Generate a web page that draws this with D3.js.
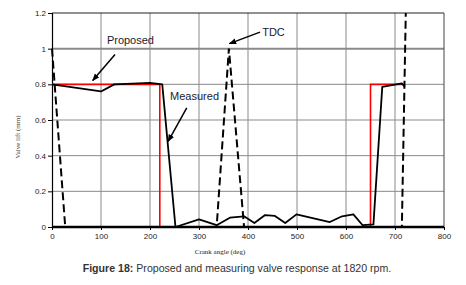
<!DOCTYPE html>
<html>
<head>
<meta charset="utf-8">
<script src="https://cdn.jsdelivr.net/npm/d3@7"></script>
<style>
  body { margin: 0; background: #fff; }
  svg { display: block; }
</style>
</head>
<body>
<div id="chart"></div>
<script>
// series (crank angle deg, valve lift mm)
const proposed = [[0, 0.8], [220, 0.8], [220, 0], [650, 0], [650, 0.8], [715, 0.8]];
const measured = [[0, 0.8], [100, 0.76], [127, 0.8], [200, 0.808], [225, 0.8], [252, 0],
  [300, 0.043], [336, 0.01], [363, 0.052], [392, 0.06], [413, 0.022], [435, 0.067],
  [455, 0.062], [476, 0.022], [499, 0.071], [567, 0.028], [592, 0.06], [615, 0.071],
  [634, 0.01], [656, 0.015], [674, 0.786], [714, 0.805], [720, 0.786]];
const tdc = [[0, 1], [27, 0], [336, 0], [361, 1], [392, 0], [714, 0], [722, 1.2]];
const xTicks = [0, 100, 200, 300, 400, 500, 600, 700, 800];
const yTicks = [0, 0.2, 0.4, 0.6, 0.8, 1, 1.2];

const W = 466, H = 285;
const M = { top: 13, right: 22, bottom: 58, left: 52 };

const svg = d3.select('#chart').append('svg')
  .attr('width', W).attr('height', H);

const x = d3.scaleLinear().domain([0, 800]).range([M.left, W - M.right]);
const y = d3.scaleLinear().domain([0, 1.2]).range([H - M.bottom, M.top]);

// grid
svg.append('g').selectAll('line.v')
  .data(xTicks.slice(1, -1)).enter().append('line')
  .attr('x1', d => x(d)).attr('x2', d => x(d))
  .attr('y1', y(0)).attr('y2', y(1.2))
  .attr('stroke', '#8a8a8a').attr('stroke-width', 1);
svg.append('g').selectAll('line.h')
  .data(yTicks.slice(1, -1)).enter().append('line')
  .attr('x1', x(0)).attr('x2', x(800))
  .attr('y1', d => y(d)).attr('y2', d => y(d))
  .attr('stroke', '#8a8a8a').attr('stroke-width', d => d === 1 ? 2 : 1);

// frame
svg.append('line').attr('x1', x(0)).attr('x2', x(800)).attr('y1', y(1.2)).attr('y2', y(1.2))
  .attr('stroke', '#222').attr('stroke-width', 1);
svg.append('line').attr('x1', x(800)).attr('x2', x(800)).attr('y1', y(0)).attr('y2', y(1.2))
  .attr('stroke', '#444').attr('stroke-width', 1);

// axes
const yAxis = svg.append('g')
  .attr('transform', `translate(${x(0)},0)`)
  .call(d3.axisLeft(y).tickValues(yTicks).tickSize(4).tickFormat(d3.format('')));
const xAxis = svg.append('g')
  .attr('transform', `translate(0,${y(0)})`)
  .call(d3.axisBottom(x).tickValues(xTicks).tickSize(3));
[yAxis, xAxis].forEach(a => {
  a.select('.domain').attr('stroke', '#000');
  a.selectAll('.tick line').attr('stroke', '#000');
  a.selectAll('text').attr('fill', '#222')
    .style('font-family', 'Liberation Sans, Arial, sans-serif').style('font-size', '8px');
});
yAxis.select('.domain').attr('stroke-width', 1.2);
yAxis.selectAll('text').attr('x', -6);
xAxis.selectAll('text').attr('y', 6);

svg.append('clipPath').attr('id', 'plot')
  .append('rect').attr('x', x(0) - 2).attr('y', y(1.2))
  .attr('width', x(800) - x(0) + 4).attr('height', y(0) - y(1.2) + 2);

const line = d3.line().x(d => x(d[0])).y(d => y(d[1]));

const plot = svg.append('g').attr('clip-path', 'url(#plot)');
plot.append('path').attr('d', line(tdc))
  .attr('fill', 'none').attr('stroke', '#000').attr('stroke-width', 2)
  .attr('stroke-dasharray', '8,4');
plot.append('path').attr('d', line(proposed))
  .attr('fill', 'none').attr('stroke', '#ff0000').attr('stroke-width', 1.6);
plot.append('path').attr('d', line(measured))
  .attr('fill', 'none').attr('stroke', '#000').attr('stroke-width', 1.8)
  .attr('stroke-linejoin', 'round');

// thick base line
svg.append('line').attr('x1', x(0)).attr('x2', x(800)).attr('y1', y(0)).attr('y2', y(0))
  .attr('stroke', '#000').attr('stroke-width', 2.5);

// annotations
const defs = svg.append('defs');
defs.append('marker').attr('id', 'arr').attr('viewBox', '0 0 10 10')
  .attr('refX', 9).attr('refY', 5).attr('markerWidth', 5).attr('markerHeight', 5)
  .attr('orient', 'auto').append('path').attr('d', 'M0,1 L10,5 L0,9 Z').attr('fill', '#000');

const notes = [
  { text: 'Proposed', tx: 112, ty: 1.024, from: [128.6, 0.967], to: [83, 0.821] },
  { text: 'Measured', tx: 241, ty: 0.71, from: [275, 0.668], to: [237, 0.48] },
  { text: 'TDC', tx: 429, ty: 1.07, from: [424.5, 1.093], to: [362, 1.028] }
];
notes.forEach(n => {
  svg.append('text').attr('x', x(n.tx)).attr('y', y(n.ty))
    .attr('fill', '#1a1a2e')
    .style('font-family', 'Liberation Sans, Arial, sans-serif').style('font-size', '11px')
    .text(n.text);
  svg.append('line')
    .attr('x1', x(n.from[0])).attr('y1', y(n.from[1]))
    .attr('x2', x(n.to[0])).attr('y2', y(n.to[1]))
    .attr('stroke', '#000').attr('stroke-width', 1.5)
    .attr('marker-end', 'url(#arr)');
});

// axis titles
svg.append('text').attr('x', 220).attr('y', 254).attr('text-anchor', 'middle')
  .attr('fill', '#222')
  .style('font-family', 'Liberation Serif, Times New Roman, serif').style('font-size', '7px')
  .text('Crank angle (deg)');
svg.append('text').attr('transform', 'translate(20,137) rotate(-90)').attr('text-anchor', 'middle')
  .attr('fill', '#4a3a30')
  .style('font-family', 'Liberation Serif, Times New Roman, serif').style('font-size', '7px')
  .text('Valve lift (mm)');

// caption
const cap = svg.append('text').attr('x', 237).attr('y', 272).attr('text-anchor', 'middle')
  .attr('fill', '#333')
  .style('font-family', 'Liberation Sans, Arial, sans-serif').style('font-size', '10.6px');
cap.append('tspan').attr('font-weight', 'bold').text('Figure 18:');
cap.append('tspan').text(' Proposed and measuring valve response at 1820 rpm.');
</script>
</body>
</html>
